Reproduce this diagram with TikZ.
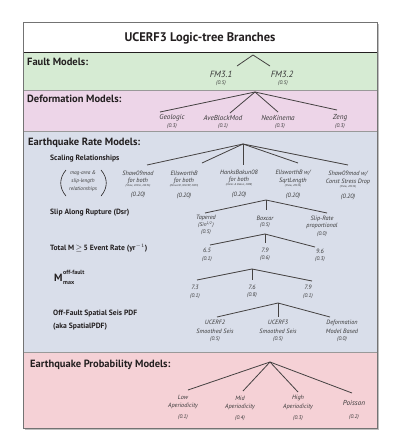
\documentclass[tikz,border=0pt]{standalone}
\usepackage{fontspec}
\setmainfont{PT Sans}
\newcommand\myfs[1]{\fontsize{#1}{#1}\selectfont}
\definecolor{bandgreen}{HTML}{D6EBD3}
\definecolor{bandlilac}{HTML}{EDD5E8}
\definecolor{bandblue}{HTML}{D9DEEA}
\definecolor{bandpink}{HTML}{F5D1D6}
\definecolor{ink}{HTML}{231F20}
\definecolor{brink}{HTML}{3A3A3A}
\begin{document}
\begin{tikzpicture}[x=1pt,y=-1pt,
  hdr/.style={font=\bfseries\myfs{10.5}, anchor=west, text=ink, inner sep=0pt},
  sub/.style={font=\bfseries\myfs{7.6}, anchor=west, text=ink, inner sep=0pt},
  brA/.style={font=\itshape\myfs{9}, text=brink, inner sep=0pt},
  brB/.style={font=\itshape\myfs{7.2}, text=brink, inner sep=0pt},
  brC/.style={font=\itshape\myfs{6.2}, text=brink, inner sep=0pt},
  wt/.style={font=\itshape\myfs{5.4}, text=brink, inner sep=0pt},
  wtB/.style={font=\itshape\myfs{6.2}, text=brink, inner sep=0pt},
  cite/.style={font=\itshape\myfs{2.8}, text=brink, inner sep=0pt},
  tl/.style={draw=ink!85, line width=0.8pt},
  sep/.style={draw=black!40, line width=0.5pt}
]
\useasboundingbox (0,0) rectangle (400,445);
% shadow and bands
\fill[black!25] (24.5,23.5) rectangle (378.5,429.5);
\fill[white] (23,22) rectangle (377,53);
\fill[bandgreen] (23,53) rectangle (377,90);
\fill[bandlilac] (23,90) rectangle (377,131);
\fill[bandblue] (23,131) rectangle (377,352);
\fill[bandpink] (23,352) rectangle (377,428);
\draw[sep] (23,90) -- (377,90);
\draw[sep] (23,131) -- (377,131);
\draw[sep] (23,352) -- (377,352);
\draw[draw=ink, line width=1pt] (23,52.5) -- (377,52.5);
\draw[draw=black!55, line width=0.8pt] (23,22) rectangle (377,428);

% title
\node[font=\bfseries\myfs{12.5}, text=ink, inner sep=0pt] (title) at (200,38) {UCERF3 Logic-tree Branches};

% Fault models
\node[hdr] (hfm) at (27,62) {Fault Models:};
\coordinate (afm) at (253,55);
\node[brA] (fm1) at (221,74) {FM3.1};
\node[wt] (fm1w) at (221,83) {(0.5)};
\node[brA] (fm2) at (282,74) {FM3.2};
\node[wt] (fm2w) at (283,83) {(0.5)};
\coordinate (efm1) at (237,66);
\coordinate (efm2) at (270,66);
\draw[tl] (efm1) -- (afm) -- (efm2);

% Deformation models
\node[hdr] (hdm) at (27,99) {Deformation Models:};
\coordinate (adm) at (255,92);
\node[brB] (dm1) at (172,118) {Geologic};
\node[wt] (dm1w) at (172,126) {(0.3)};
\node[brB] (dm2) at (223,118) {AveBlockMod};
\node[wt] (dm2w) at (223,126) {(0.1)};
\node[brB] (dm3) at (278,118) {NeoKinema};
\node[wt] (dm3w) at (280,126) {(0.3)};
\node[brB] (dm4) at (340,118) {Zeng};
\node[wt] (dm4w) at (340,126) {(0.3)};
\coordinate (edm1) at (160,112);
\coordinate (edm2) at (230,113);
\coordinate (edm3) at (278,112);
\coordinate (edm4) at (337,110);
\foreach \e in {edm1,edm2,edm3,edm4} \draw[tl] (adm) -- (\e);

% Earthquake rate models
\node[hdr] (hrm) at (28,143) {Earthquake Rate Models:};

% Scaling relationships
\node[sub] (hsr) at (50,159) {Scaling Relationships};
\node[wt,font=\itshape\myfs{5.3}] (p1) at (83,173) {mag-area \&};
\node[wt,font=\itshape\myfs{5.3}] (p2) at (83,181) {slip-length};
\node[wt,font=\itshape\myfs{5.3}] (p3) at (83,189) {relationships};
\coordinate (pl1) at (66,170);
\coordinate (pl2) at (66,196);
\coordinate (pr1) at (101,170);
\coordinate (pr2) at (101,196);
\draw[ink, line width=0.6pt] (pl1) .. controls (59,178) and (59,188) .. (pl2);
\draw[ink, line width=0.6pt] (pr1) .. controls (108,178) and (108,188) .. (pr2);

\coordinate (asr) at (243,144);
\node[brC] (s1a) at (138,173) {Shaw09mod};
\node[brC] (s1b) at (138,181) {for both};
\node[cite] (s1c) at (138,186) {(Shaw, 2013a, 2013b)};
\node[wtB] (s1w) at (138,195) {(0.20)};
\node[brC] (s2a) at (184,173) {EllsworthB};
\node[brC] (s2b) at (184,181) {for both};
\node[cite] (s2c) at (184,186) {(Ellsworth, WGCEP, 2003)};
\node[wtB] (s2w) at (184,196) {(0.20)};
\node[brC] (s3a) at (239,172) {HanksBakun08};
\node[brC] (s3b) at (239,180) {for both};
\node[cite] (s3c) at (239,185) {(Hanks \& Bakun, 2008)};
\node[wtB] (s3w) at (239,195) {(0.20)};
\node[brC] (s4a) at (293,173) {EllsworthB w/};
\node[brC] (s4b) at (293,181) {SqrtLength};
\node[cite] (s4c) at (293,186) {(Shaw, 2013b)};
\node[wtB] (s4w) at (293,196) {(0.20)};
\node[brC] (s5a) at (348,174) {Shaw09mod w/};
\node[brC] (s5b) at (348,182) {Const Stress Drop};
\node[cite] (s5c) at (348,187) {(Shaw, 2013b)};
\node[wtB] (s5w) at (348,197) {(0.20)};
\coordinate (esr1) at (147,165);
\coordinate (esr2) at (202,163);
\coordinate (esr3) at (243,165);
\coordinate (esr4) at (298,163);
\coordinate (esr5) at (348,165);
\foreach \e in {esr1,esr2,esr3,esr4,esr5} \draw[tl] (asr) -- (\e);

% Slip along rupture
\node[sub] (hsl) at (50,213) {Slip Along Rupture (Dsr)};
\coordinate (asl) at (266,200);
\node[brC] (sl1a) at (206,218) {Tapered};
\node[wt] (sl1b) at (206,225) {(Sin\textsuperscript{1/2})};
\node[wt] (sl1w) at (206,232) {(0.5)};
\node[brC] (sl2a) at (265,218) {Boxcar};
\node[wt] (sl2w) at (265,225) {(0.5)};
\node[brC] (sl3a) at (322,219) {Slip-Rate};
\node[brC] (sl3b) at (322,226) {proportional};
\node[wt] (sl3w) at (322,234) {(0.0)};
\coordinate (esl1) at (205,213);
\coordinate (esl2) at (266,210);
\coordinate (esl3) at (327,213);
\foreach \e in {esl1,esl2,esl3} \draw[tl] (asl) -- (\e);

% Total event rate
\node[sub] (hte) at (50,248) {Total M$\,\geq\,$5 Event Rate (yr$^{-1}$)};
\coordinate (ate) at (265,234);
\node[brC] (te1) at (207,250) {6.5};
\node[wt] (te1w) at (207,259) {(0.1)};
\node[brC] (te2) at (265,250) {7.9};
\node[wt] (te2w) at (265,258) {(0.6)};
\node[brC] (te3) at (320,251) {9.6};
\node[wt] (te3w) at (320,259) {(0.3)};
\coordinate (ete1) at (210,245);
\coordinate (ete2) at (265,243);
\coordinate (ete3) at (315,247);
\foreach \e in {ete1,ete2,ete3} \draw[tl] (ate) -- (\e);

% Mmax off-fault
\node[sub, font=\bfseries\myfs{10.5}] (hmm) at (54,278) {M};
\node[sub, font=\bfseries\myfs{6}] (hmmsup) at (63,272) {off-fault};
\node[sub, font=\bfseries\myfs{6}] (hmmsub) at (63,283) {max};
\coordinate (amm) at (252,269);
\node[brC] (mm1) at (195,287) {7.3};
\node[wt] (mm1w) at (195,296) {(0.1)};
\node[brC] (mm2) at (252,287) {7.6};
\node[wt] (mm2w) at (252,295) {(0.8)};
\node[brC] (mm3) at (308,287) {7.9};
\node[wt] (mm3w) at (308,296) {(0.1)};
\coordinate (emm1) at (197,280);
\coordinate (emm2) at (252,280);
\coordinate (emm3) at (312,281);
\foreach \e in {emm1,emm2,emm3} \draw[tl] (amm) -- (\e);

% Off-fault spatial PDF
\node[sub] (hsp1) at (53,314) {Off-Fault Spatial Seis PDF};
\node[sub] (hsp2) at (53,327) {(aka SpatialPDF)};
\coordinate (asp) at (278,303);
\node[brC] (sp1a) at (215,322) {UCERF2};
\node[brC] (sp1b) at (215,331) {Smoothed Seis};
\node[wt] (sp1w) at (215,339) {(0.5)};
\node[brC] (sp2a) at (278,322) {UCERF3};
\node[brC] (sp2b) at (278,331) {Smoothed Seis};
\node[wt] (sp2w) at (278,339) {(0.5)};
\node[brC] (sp3a) at (342,323) {Deformation};
\node[brC] (sp3b) at (342,331) {Model Based};
\node[wt] (sp3w) at (342,339) {(0.0)};
\coordinate (esp1) at (217,317);
\coordinate (esp2) at (278,317);
\coordinate (esp3) at (330,317);
\foreach \e in {esp1,esp2,esp3} \draw[tl] (asp) -- (\e);

% Probability models
\node[hdr] (hpm) at (30,365) {Earthquake Probability Models:};
\coordinate (apm) at (270,362);
\node[brC] (pm1a) at (183,397) {Low};
\node[brC] (pm1b) at (183,406) {Aperiodicity};
\node[wt] (pm1w) at (183,417) {(0.1)};
\node[brC] (pm2a) at (240,398) {Mid};
\node[brC] (pm2b) at (240,407) {Aperiodicity};
\node[wt] (pm2w) at (240,418) {(0.4)};
\node[brC] (pm3a) at (298,398) {High};
\node[brC] (pm3b) at (298,407) {Aperiodicity};
\node[wt] (pm3w) at (298,418) {(0.3)};
\node[brB] (pm4a) at (354,403) {Poisson};
\node[wt] (pm4w) at (354,417) {(0.2)};
\coordinate (epm1) at (188,390);
\coordinate (epm2) at (243,391);
\coordinate (epm3) at (298,392);
\coordinate (epm4) at (352,393);
\foreach \e in {epm1,epm2,epm3,epm4} \draw[tl] (apm) -- (\e);
\end{tikzpicture}
\end{document}
